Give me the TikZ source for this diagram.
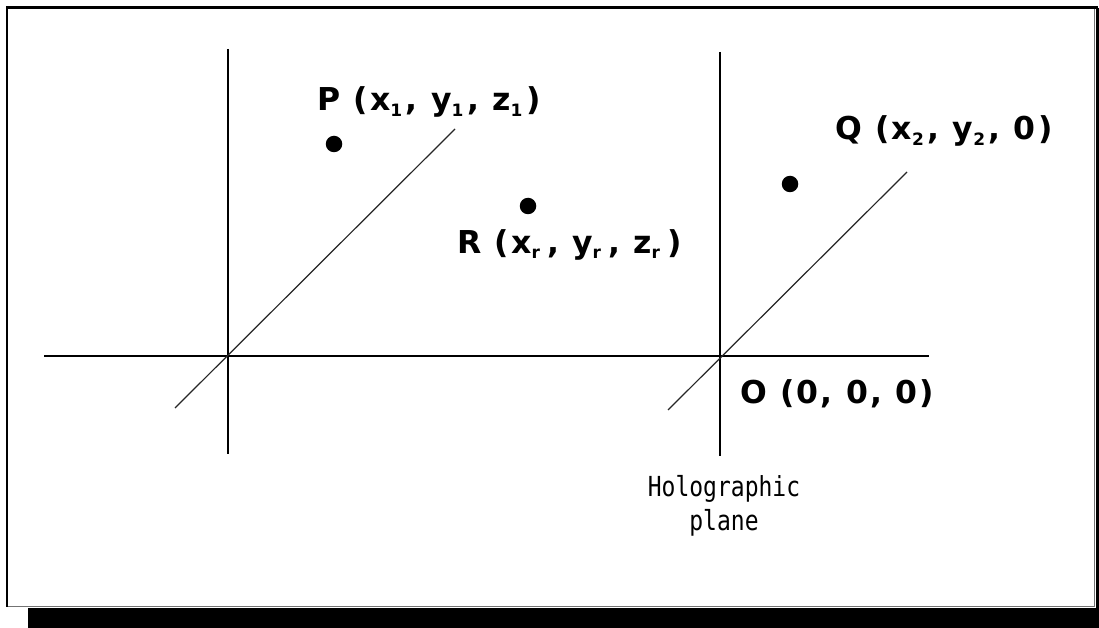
\documentclass[tikz,border=0pt]{standalone}
\usepackage{graphicx}
\usepackage{fontspec}
\newfontfamily\monof{DejaVu Sans Mono}
\newfontfamily\labf[LetterSpace=7]{DejaVu Sans}
\newcommand\sbs[1]{\makebox[15.5pt][l]{\raisebox{-5.5pt}{\fontsize{17}{17}\selectfont #1}}}
\begin{document}
\begin{tikzpicture}[x=1pt,y=-1pt,
  axis/.style={line width=2pt, black},
  diag/.style={line width=1.2pt, black!85},
  dotpt/.style={circle, fill=black, minimum size=16.5pt, inner sep=0pt},
  lbl/.style={font=\labf\bfseries\fontsize{31.5}{31.5}\selectfont, inner sep=0pt, anchor=base west},
  small/.style={font=\monof\fontsize{23}{23}\selectfont, inner sep=0pt, anchor=base}
]
\useasboundingbox (0,0) rectangle (1099,628);
% frame with shadow
\fill[white] (0,0) rectangle (1099,628);
\fill[black] (28,608) rectangle (1099,628);
\fill[black] (1096,8) rectangle (1099,628);
\draw[line width=0.8pt, black!55] (1094,7) -- (1094,606) -- (7,606);
\draw[line width=2.5pt, line cap=rect] (7,606) -- (7,7.5) -- (1097,7.5);

% coordinates
\coordinate (hL) at (44,356);
\coordinate (hR) at (929,356);
\coordinate (v1T) at (228,49);
\coordinate (v1B) at (228,454);
\coordinate (v2T) at (720,52);
\coordinate (v2B) at (720,456);
\coordinate (d1a) at (175,408);
\coordinate (d1b) at (455,129);
\coordinate (d2a) at (668,410);
\coordinate (d2b) at (907,172);

% axes
\draw[axis] (hL) -- (hR);
\draw[axis] (v1T) -- (v1B);
\draw[axis] (v2T) -- (v2B);
\draw[diag] (d1a) -- (d1b);
\draw[diag] (d2a) -- (d2b);

% points
\node[dotpt] (P) at (334,144) {};
\node[dotpt] (R) at (528,206) {};
\node[dotpt] (Q) at (790,184) {};

% labels
\node[lbl] (Plab) at (317,111) {P (x\sbs{1}, y\sbs{1}, z\sbs{1})};
\node[lbl] (Rlab) at (457,253) {R (x\sbs{r}, y\sbs{r}, z\sbs{r})};
\node[lbl] (Qlab) at (835,140) {Q (x\sbs{2}, y\sbs{2}, 0)};
\node[lbl] (Olab) at (740,403) {O (0, 0, 0)};
\node[small] (holo) at (724,496) {\scalebox{1}[1.2]{Holographic}};
\node[small] (plane) at (724,530) {\scalebox{1}[1.2]{plane}};
\end{tikzpicture}
\end{document}
